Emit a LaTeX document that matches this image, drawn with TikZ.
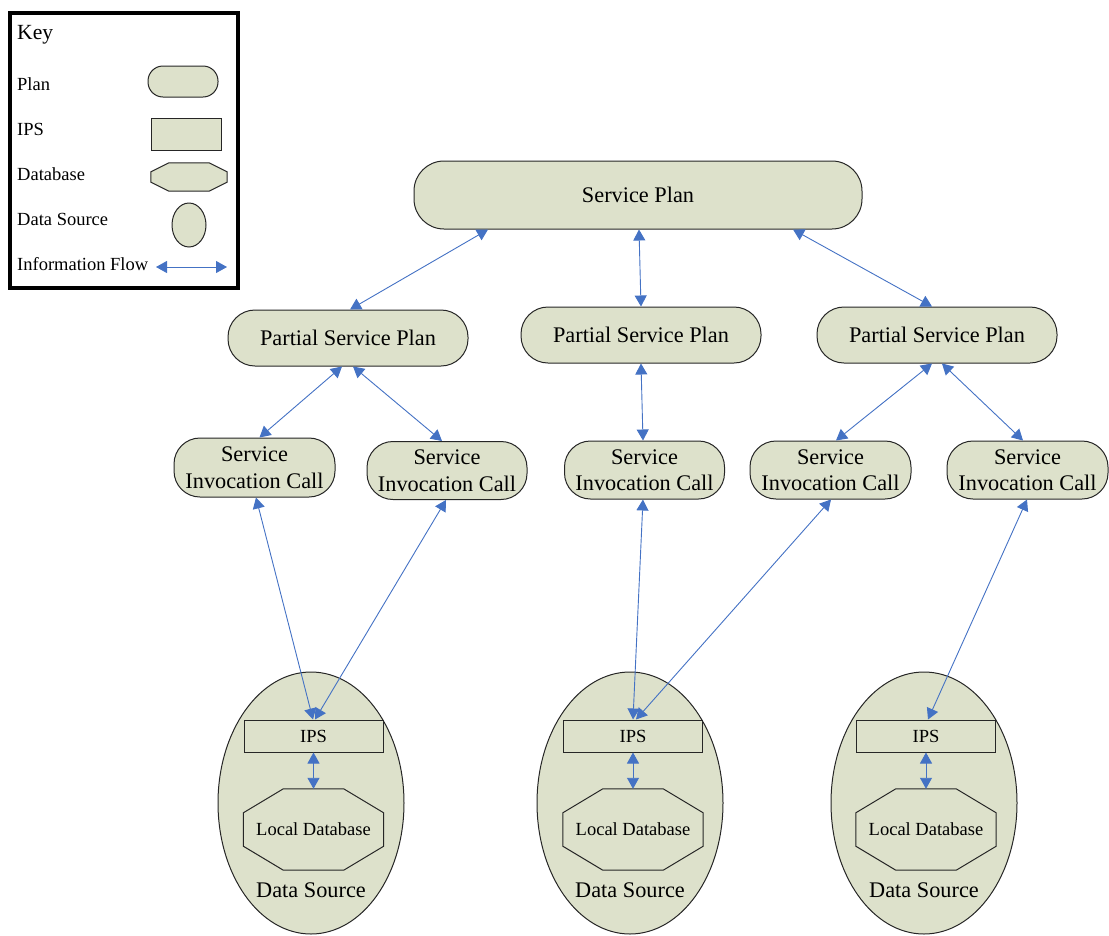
\documentclass[tikz,border=0pt]{standalone}
\usepackage{fontspec}
\setmainfont{Liberation Serif}
\usetikzlibrary{arrows.meta,shapes.geometric}
\definecolor{shapefill}{RGB}{221,225,203}
\definecolor{flowblue}{RGB}{68,114,196}
\pgfdeclarelayer{back}
\pgfdeclarelayer{mid}
\pgfsetlayers{back,mid,main}
\newcommand\octshape[3]{%
  \begin{pgfonlayer}{mid}
  \filldraw[draw=black!85, line width=1pt, fill=shapefill]
    ([xshift=#2]#1.north west) -- ([xshift=-#2]#1.north east) --
    ([yshift=-#3]#1.north east) -- ([yshift=#3]#1.south east) --
    ([xshift=-#2]#1.south east) -- ([xshift=#2]#1.south west) --
    ([yshift=#3]#1.south west) -- ([yshift=-#3]#1.north west) -- cycle;
  \end{pgfonlayer}}
\tikzset{
  base/.style={draw=black!85, line width=1pt, fill=shapefill, inner sep=0pt, align=center},
  planbox/.style={base, rectangle, rounded corners=#1},
  ipsbox/.style={base, rectangle, minimum width=139pt, minimum height=32pt, font=\fontsize{18.5}{20}\selectfont},
  dbbox/.style={rectangle, inner sep=0pt, minimum width=140pt, minimum height=81pt, font=\fontsize{18.5}{20}\selectfont},
  dsbox/.style={base, ellipse, minimum width=186pt, minimum height=262pt},
  flow/.style={draw=flowblue, line width=0.9pt, {Triangle[length=11pt,width=12pt]}-{Triangle[length=11pt,width=12pt]}},
  keylabel/.style={anchor=base west, inner sep=0pt, font=\fontsize{18.5}{20}\selectfont},
  bigtext/.style={font=\fontsize{22.3}{25}\selectfont},
}
\begin{document}
\begin{tikzpicture}[x=1pt,y=-1pt]
\useasboundingbox (0,0) rectangle (1109,935);

% ---------- Key ----------
\node[draw=black, line width=4pt, rectangle, minimum width=228pt, minimum height=275pt, inner sep=0pt] (keyframe) at (124,150.5) {};
\node[anchor=base west, inner sep=0pt, font=\fontsize{21.6}{24}\selectfont] (keytitle) at (17,39) {Key};
\node[keylabel] (kplan) at (17,90) {Plan};
\node[keylabel] (kips) at (17,135) {IPS};
\node[keylabel] (kdb) at (17,180) {Database};
\node[keylabel] (kds) at (17,225) {Data Source};
\node[keylabel] (kflow) at (17,270) {Information Flow};
\node[planbox=15pt, minimum width=70pt, minimum height=31pt] (kplanshape) at (183,81.5) {};
\node[base, rectangle, minimum width=70pt, minimum height=32pt] (kipsshape) at (186,134) {};
\node[rectangle, inner sep=0pt, minimum width=76pt, minimum height=28pt] (kdbshape) at (189,177) {};
\octshape{kdbshape}{18pt}{9pt}
\node[base, ellipse, minimum width=34pt, minimum height=44pt] (kdsshape) at (189,225) {};
\coordinate (kfa) at (156,267);
\coordinate (kfb) at (227,267);
\draw[flow] (kfa) -- (kfb);

% ---------- Plans ----------
\node[planbox=30pt, minimum width=448pt, minimum height=68pt, bigtext] (sp) at (638,195) {Service Plan};
\node[planbox=27pt, minimum width=240pt, minimum height=56pt, bigtext] (psp1) at (348,338) {Partial Service Plan};
\node[planbox=27pt, minimum width=240pt, minimum height=56pt, bigtext] (psp2) at (641,335) {Partial Service Plan};
\node[planbox=27pt, minimum width=240pt, minimum height=56pt, bigtext] (psp3) at (937,335) {Partial Service Plan};

\node[planbox=26pt, minimum width=161pt, minimum height=59pt, bigtext] (s1) at (254.5,467.5) {Service\\[1.5pt]Invocation Call};
\node[planbox=26pt, minimum width=160pt, minimum height=58pt, bigtext] (s2) at (447,470.5) {Service\\[1.5pt]Invocation Call};
\node[planbox=26pt, minimum width=160pt, minimum height=58pt, bigtext] (s3) at (644.5,470) {Service\\[1.5pt]Invocation Call};
\node[planbox=26pt, minimum width=161pt, minimum height=58pt, bigtext] (s4) at (830.5,470) {Service\\[1.5pt]Invocation Call};
\node[planbox=26pt, minimum width=161pt, minimum height=58pt, bigtext] (s5) at (1027.5,470) {Service\\[1.5pt]Invocation Call};

% ---------- Data sources ----------
\begin{pgfonlayer}{back}
\node[dsbox] (ds1) at (311,803) {};
\node[dsbox] (ds2) at (630,803) {};
\node[dsbox] (ds3) at (924,803) {};
\end{pgfonlayer}
\node[bigtext, inner sep=0pt] (dsl1) at (311,890) {Data Source};
\node[bigtext, inner sep=0pt] (dsl2) at (630,890) {Data Source};
\node[bigtext, inner sep=0pt] (dsl3) at (924,890) {Data Source};

\node[ipsbox] (ips1) at (313.5,736) {IPS};
\node[ipsbox] (ips2) at (633,736) {IPS};
\node[ipsbox] (ips3) at (926,736) {IPS};

\node[dbbox] (db1) at (313.5,829.5) {Local Database};
\node[dbbox] (db2) at (633,829.5) {Local Database};
\node[dbbox] (db3) at (926,829.5) {Local Database};
\octshape{db1}{40pt}{24pt}
\octshape{db2}{40pt}{24pt}
\octshape{db3}{40pt}{24pt}

% ---------- Flows ----------
\draw[flow] ([xshift=-150pt]sp.south) -- ([xshift=2pt]psp1.north);
\draw[flow] ([xshift=1pt]sp.south) -- (psp2.north);
\draw[flow] ([xshift=155pt]sp.south) -- ([xshift=-5pt]psp3.north);

\draw[flow] ([xshift=-6pt]psp1.south) -- ([xshift=5pt]s1.north);
\draw[flow] ([xshift=5pt]psp1.south) -- ([xshift=-5pt]s2.north);
\draw[flow] (psp2.south) -- ([xshift=-1.5pt]s3.north);
\draw[flow] ([xshift=-5pt]psp3.south) -- ([xshift=5.5pt]s4.north);
\draw[flow] ([xshift=5pt]psp3.south) -- ([xshift=-4.5pt]s5.north);

\draw[flow] ([xshift=1.5pt]s1.south) -- ([xshift=-0.5pt]ips1.north);
\draw[flow] ([xshift=-1pt]s2.south) -- ([xshift=1.5pt]ips1.north);
\draw[flow] ([xshift=-1.5pt]s3.south) -- (ips2.north);
\draw[flow] ([xshift=0.5pt]s4.south) -- ([xshift=3pt]ips2.north);
\draw[flow] ([xshift=-0.5pt]s5.south) -- ([xshift=2pt]ips3.north);

\draw[flow] (ips1.south) -- (db1.north);
\draw[flow] (ips2.south) -- (db2.north);
\draw[flow] (ips3.south) -- (db3.north);
\end{tikzpicture}
\end{document}
